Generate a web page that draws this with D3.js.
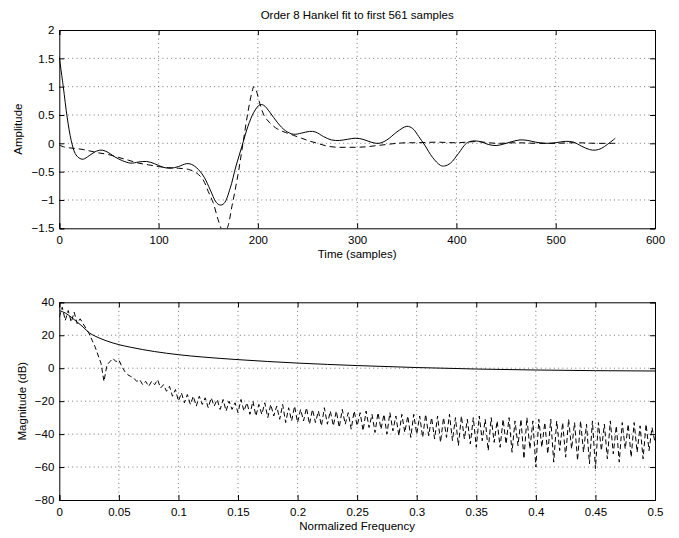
<!DOCTYPE html>
<html><head><meta charset="utf-8">
<script src="https://cdn.jsdelivr.net/npm/d3@7"></script>
<style>
body{margin:0;background:#fff;}
text{font-family:"Liberation Sans",Arial,Helvetica,sans-serif;font-size:11.5px;fill:#000;}
</style></head>
<body><svg id="c" width="679" height="538"></svg>
<script>
// ---------- DATA ----------
const title = "Order 8 Hankel fit to first 561 samples";
const topXTicks = [0,100,200,300,400,500,600];
const topYTicks = [-1.5,-1,-0.5,0,0.5,1,1.5,2];
const botXTicks = [0,0.05,0.1,0.15,0.2,0.25,0.3,0.35,0.4,0.45,0.5];
const botYTicks = [-80,-60,-40,-20,0,20,40];

// Original impulse response (solid): sample index / amplitude
const origT = [0,4,8,12,16,20,24,30,36,42,48,56,64,72,80,88,96,104,112,120,128,133,140,146,152,158,162,166,172,178,184,190,196,202,206,212,220,228,236,244,252,258,266,274,282,290,298,306,314,322,330,340,350,356,362,368,376,384,388,394,402,410,416,424,432,440,448,456,464,472,480,490,500,510,518,526,534,540,546,552,558,560];
const origA = [1.52,1.0,0.45,0.05,-0.18,-0.26,-0.28,-0.22,-0.15,-0.12,-0.15,-0.24,-0.31,-0.35,-0.33,-0.32,-0.36,-0.42,-0.44,-0.41,-0.36,-0.37,-0.46,-0.6,-0.82,-1.04,-1.09,-1.06,-0.8,-0.4,-0.05,0.3,0.55,0.68,0.67,0.55,0.36,0.22,0.16,0.18,0.21,0.2,0.12,0.06,0.05,0.07,0.09,0.07,0.02,0.0,0.06,0.2,0.3,0.26,0.12,-0.03,-0.25,-0.39,-0.4,-0.35,-0.18,0.0,0.04,0.03,-0.02,-0.04,-0.01,0.03,0.06,0.05,0.02,0.0,0.01,0.035,0.02,-0.05,-0.11,-0.12,-0.09,-0.02,0.06,0.09];

// Order-8 Hankel fit (dashed)
const fitT = [0,4,10,16,24,32,40,50,60,70,80,90,100,110,120,130,138,145,150,155,160,164,166,169,174,180,185,190,194,196,198,202,206,212,220,228,236,244,252,260,270,280,290,300,310,320,330,340,350,360,380,400,420,440,460,480,500,520,540,560];
const fitA = [-0.03,-0.06,-0.08,-0.09,-0.11,-0.14,-0.17,-0.2,-0.25,-0.3,-0.35,-0.38,-0.41,-0.43,-0.44,-0.46,-0.52,-0.65,-0.85,-1.05,-1.35,-1.53,-1.55,-1.5,-1.1,-0.55,0.0,0.55,0.9,1.0,0.95,0.7,0.5,0.36,0.25,0.19,0.14,0.09,0.04,0.0,-0.05,-0.07,-0.07,-0.07,-0.06,-0.04,-0.02,0.0,0.01,0.01,0.02,0.01,0.03,0.0,0.01,0.0,0.0,0.01,0.0,0.0];

// Magnitude of fit (solid, smooth)
const fitMagF = [0,0.005,0.01,0.015,0.02,0.025,0.03,0.04,0.05,0.06,0.07,0.08,0.1,0.12,0.15,0.2,0.25,0.3,0.35,0.4,0.45,0.5];
const fitMagDB = [35,33.5,31,28,25,21.5,19.5,16.5,14.3,12.7,11.3,10.1,8.2,6.8,5.2,3.1,1.6,0.4,-0.5,-1.1,-1.5,-1.7];

// Magnitude (dashed, jagged), frequency step 0.0025 from 0 to 0.5
const errStep = 0.0025;
const errDB = [31,37,29,35,28,34,27,30,27,24,21,17,13,8,3,-8,2,4,6,4,
5,1,-2,-4,-5,-6,-8,-7,-10,-8,-11,-8,-10,-7,-12,-10,-14,-11,-17,-13,
-20,-15,-21,-16,-22,-17,-23,-17,-22,-18,-24,-18,-23,-19,-25,-19,-26,-20,-25,-21,
-27,-19,-26,-21,-28,-20,-29,-22,-28,-21,-30,-22,-29,-23,-31,-22,-33,-24,-32,-23,
-33,-25,-32,-24,-34,-25,-33,-26,-35,-24,-34,-26,-35,-26,-36,-25,-34,-27,-37,-26,
-35,-27,-38,-26,-36,-28,-39,-27,-37,-28,-40,-27,-38,-29,-41,-28,-39,-29,-42,-28,
-40,-29,-42,-28,-41,-30,-43,-29,-45,-30,-42,-28,-44,-30,-47,-29,-43,-31,-46,-30,
-48,-29,-44,-31,-50,-30,-45,-32,-48,-31,-46,-30,-51,-32,-47,-31,-55,-30,-49,-32,
-60,-31,-48,-33,-52,-31,-57,-32,-50,-33,-54,-31,-49,-33,-56,-32,-51,-34,-58,-32,
-61,-33,-50,-34,-55,-32,-52,-35,-57,-33,-49,-34,-54,-33,-51,-35,-55,-34,-50,-36,
-45];

// ---------- DRAW ----------
const svg = d3.select("#c");
const L = 59.3, R = 655;
const topBox = {t:30, b:228.3};
const botBox = {t:302.3, b:500};

function panel(box, xDom, yDom, xTicks, yTicks, xLabel, yLabel, yLabelX, id){
  const x = d3.scaleLinear().domain(xDom).range([L,R]);
  const y = d3.scaleLinear().domain(yDom).range([box.b, box.t]);
  const g = svg.append("g");
  g.append("clipPath").attr("id",id).append("rect")
    .attr("x",L).attr("y",box.t).attr("width",R-L).attr("height",box.b-box.t);
  const grid = g.append("g").attr("stroke","#555").attr("stroke-width",0.8).attr("stroke-dasharray","1,3.3");
  xTicks.forEach(v=>{ if(v!==xDom[0] && v!==xDom[1]) grid.append("line").attr("x1",x(v)).attr("x2",x(v)).attr("y1",box.t).attr("y2",box.b); });
  yTicks.forEach(v=>{ if(v!==yDom[0] && v!==yDom[1]) grid.append("line").attr("x1",L).attr("x2",R).attr("y1",y(v)).attr("y2",y(v)); });
  const tk = 5;
  const fmt = d => String(d).replace("-","\u2212");
  const axB = d3.axisBottom(x).tickValues(xTicks).tickSize(-tk).tickPadding(8).tickFormat(fmt);
  const axT = d3.axisTop(x).tickValues(xTicks).tickSize(-tk).tickFormat("");
  const axL = d3.axisLeft(y).tickValues(yTicks).tickSize(-tk).tickPadding(5).tickFormat(fmt);
  const axR = d3.axisRight(y).tickValues(yTicks).tickSize(-tk).tickFormat("");
  const style = s => { s.select(".domain").attr("stroke","#000"); s.selectAll(".tick line").attr("stroke","#000");
    s.selectAll("text").attr("font-size","11.5px").attr("font-family","Liberation Sans, Arial, sans-serif"); };
  g.append("g").attr("transform",`translate(0,${box.b})`).call(axB).call(style);
  g.append("g").attr("transform",`translate(0,${box.t})`).call(axT).call(style);
  g.append("g").attr("transform",`translate(${L},0)`).call(axL).call(style);
  g.append("g").attr("transform",`translate(${R},0)`).call(axR).call(style);
  g.append("text").attr("x",(L+R)/2).attr("y",box.b+30).attr("text-anchor","middle").text(xLabel);
  g.append("text").attr("transform",`translate(${yLabelX},${(box.t+box.b)/2}) rotate(-90)`).attr("text-anchor","middle").text(yLabel);
  return {x,y,g};
}

const P1 = panel(topBox,[0,600],[-1.5,2],topXTicks,topYTicks,"Time (samples)","Amplitude",22,"clipTop");
const P2 = panel(botBox,[0,0.5],[-80,40],botXTicks,botYTicks,"Normalized Frequency","Magnitude (dB)",26,"clipBot");

svg.append("text").attr("x",(L+R)/2).attr("y",19).attr("text-anchor","middle").text(title);

// top curves
const lineTop = d3.line().x(d=>P1.x(d[0])).y(d=>P1.y(d[1])).curve(d3.curveCatmullRom.alpha(0.5));
P1.g.append("path").datum(origT.map((t,i)=>[t,origA[i]])).attr("d",lineTop)
  .attr("fill","none").attr("stroke","#000").attr("stroke-width",1).attr("clip-path","url(#clipTop)");
P1.g.append("path").datum(fitT.map((t,i)=>[t,fitA[i]])).attr("d",lineTop)
  .attr("fill","none").attr("stroke","#000").attr("stroke-width",1).attr("stroke-dasharray","6,4").attr("clip-path","url(#clipTop)");

// bottom curves
const lineBotS = d3.line().x(d=>P2.x(d[0])).y(d=>P2.y(d[1])).curve(d3.curveMonotoneX);
P2.g.append("path").datum(fitMagF.map((f,i)=>[f,fitMagDB[i]])).attr("d",lineBotS)
  .attr("fill","none").attr("stroke","#000").attr("stroke-width",1).attr("clip-path","url(#clipBot)");
const lineBotD = d3.line().x(d=>P2.x(d[0])).y(d=>P2.y(d[1]));
P2.g.append("path").datum(errDB.map((v,i)=>[i*errStep,v])).attr("d",lineBotD)
  .attr("fill","none").attr("stroke","#000").attr("stroke-width",1).attr("stroke-dasharray","5,3").attr("clip-path","url(#clipBot)");
</script></body></html>
